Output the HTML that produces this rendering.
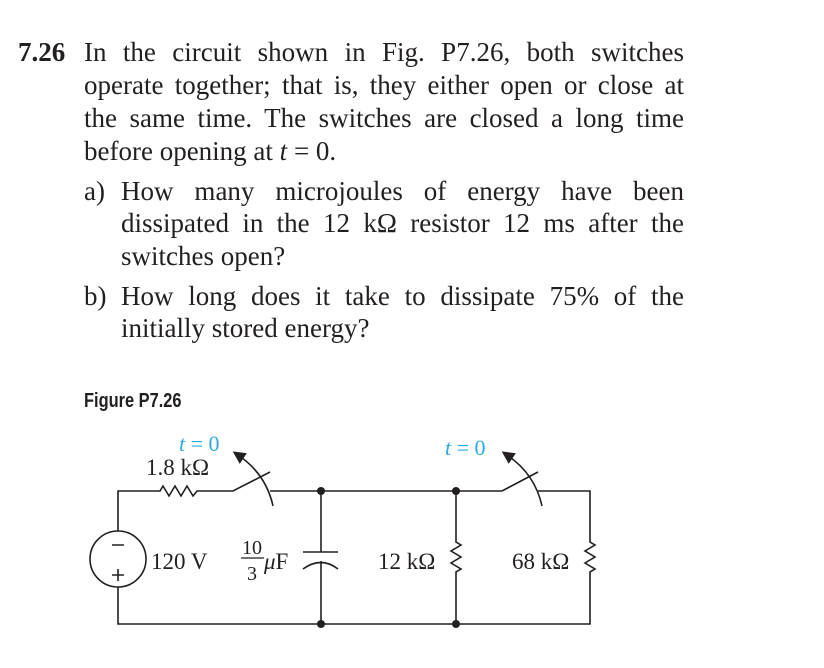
<!DOCTYPE html>
<html><head><meta charset="utf-8"><style>
body{margin:0;width:824px;height:668px;background:#fff;position:relative;overflow:hidden;font-family:"Liberation Serif",serif;color:#231f20}
.l{position:absolute;font-size:27px;white-space:nowrap;text-align:justify;text-align-last:justify;line-height:30px}
.b{font-weight:bold}
svg{position:absolute;left:0;top:0}
</style></head><body>
<div class="l b" style="left:18px;top:37px">7.26</div>
<div class="l" style="left:84px;top:37px;width:600px">In the circuit shown in Fig. P7.26, both switches</div>
<div class="l" style="left:84px;top:70px;width:600px">operate together; that is, they either open or close at</div>
<div class="l" style="left:84px;top:103px;width:600px">the same time. The switches are closed a long time</div>
<div class="l" style="left:84px;top:136px;">before opening at <i>t</i> = 0.</div>
<div class="l" style="left:84px;top:176px">a)</div>
<div class="l" style="left:121px;top:176px;width:563px">How many microjoules of energy have been</div>
<div class="l" style="left:121px;top:208px;width:563px">dissipated in the 12 kΩ resistor 12 ms after the</div>
<div class="l" style="left:121px;top:241px">switches open?</div>
<div class="l" style="left:84px;top:281px">b)</div>
<div class="l" style="left:121px;top:281px;width:563px">How long does it take to dissipate 75% of the</div>
<div class="l" style="left:121px;top:313px">initially stored energy?</div>
<div style="position:absolute;left:84px;top:390px;font-family:'Liberation Sans',sans-serif;font-weight:bold;font-size:20px;transform:scaleX(0.82);transform-origin:left">Figure P7.26</div>
<svg width="824" height="668" viewBox="0 0 824 668">
<defs><marker id="a" markerWidth="8" markerHeight="8" refX="4" refY="4" orient="auto"><path d="M0,0 L8,4 L0,8z" fill="#231f20"/></marker></defs>
<g stroke="#231f20" stroke-width="1.6" fill="none">
<path d="M118,531 V491 H160 l3,-5 l6,10 l6,-10 l6,10 l6,-10 l6,10 l4,-5 H233 L270,472"/>
<path d="M270,491 H502 L538,472"/>
<path d="M538,491 H590 V542 l5,3 l-10,6 l10,6 l-10,6 l10,6 l-5,3 V624 H118 V587"/>
<circle cx="118" cy="559" r="28"/>
<path d="M321,491 V552 M303,552 H338 M303,569 Q321,556 338,569 M321,561 V624"/>
<path d="M456,491 V542 l5,3 l-10,6 l10,6 l-10,6 l10,6 l-5,3 V624"/>
<path d="M273,506 Q266,474 238,455" marker-end="url(#a)"/>
<path d="M542,506 Q535,474 507,455" marker-end="url(#a)"/>
<path d="M112,545 H124 M112,575 H124 M118,569 V581"/>
</g>
<g fill="#231f20"><circle cx="321" cy="491" r="4"/><circle cx="456" cy="491" r="4"/><circle cx="321" cy="624" r="4"/><circle cx="456" cy="624" r="4"/></g>
<g font-family="Liberation Serif,serif" font-size="23" fill="#231f20">
<text x="146" y="475">1.8 kΩ</text>
<text x="151" y="569">120 V</text>
<text x="242" y="554" font-size="20">10</text>
<path d="M241,558 H264" stroke="#231f20" stroke-width="1.2"/>
<text x="247" y="580" font-size="20">3</text>
<text x="264" y="569"><tspan font-style="italic">μ</tspan>F</text>
<text x="378" y="569">12 kΩ</text>
<text x="512" y="569">68 kΩ</text>
</g>
<g font-family="Liberation Serif,serif" font-size="22" fill="#29abe2">
<text x="179" y="451"><tspan font-style="italic">t</tspan> = 0</text>
<text x="445" y="455"><tspan font-style="italic">t</tspan> = 0</text>
</g>
</svg>
</body></html>
